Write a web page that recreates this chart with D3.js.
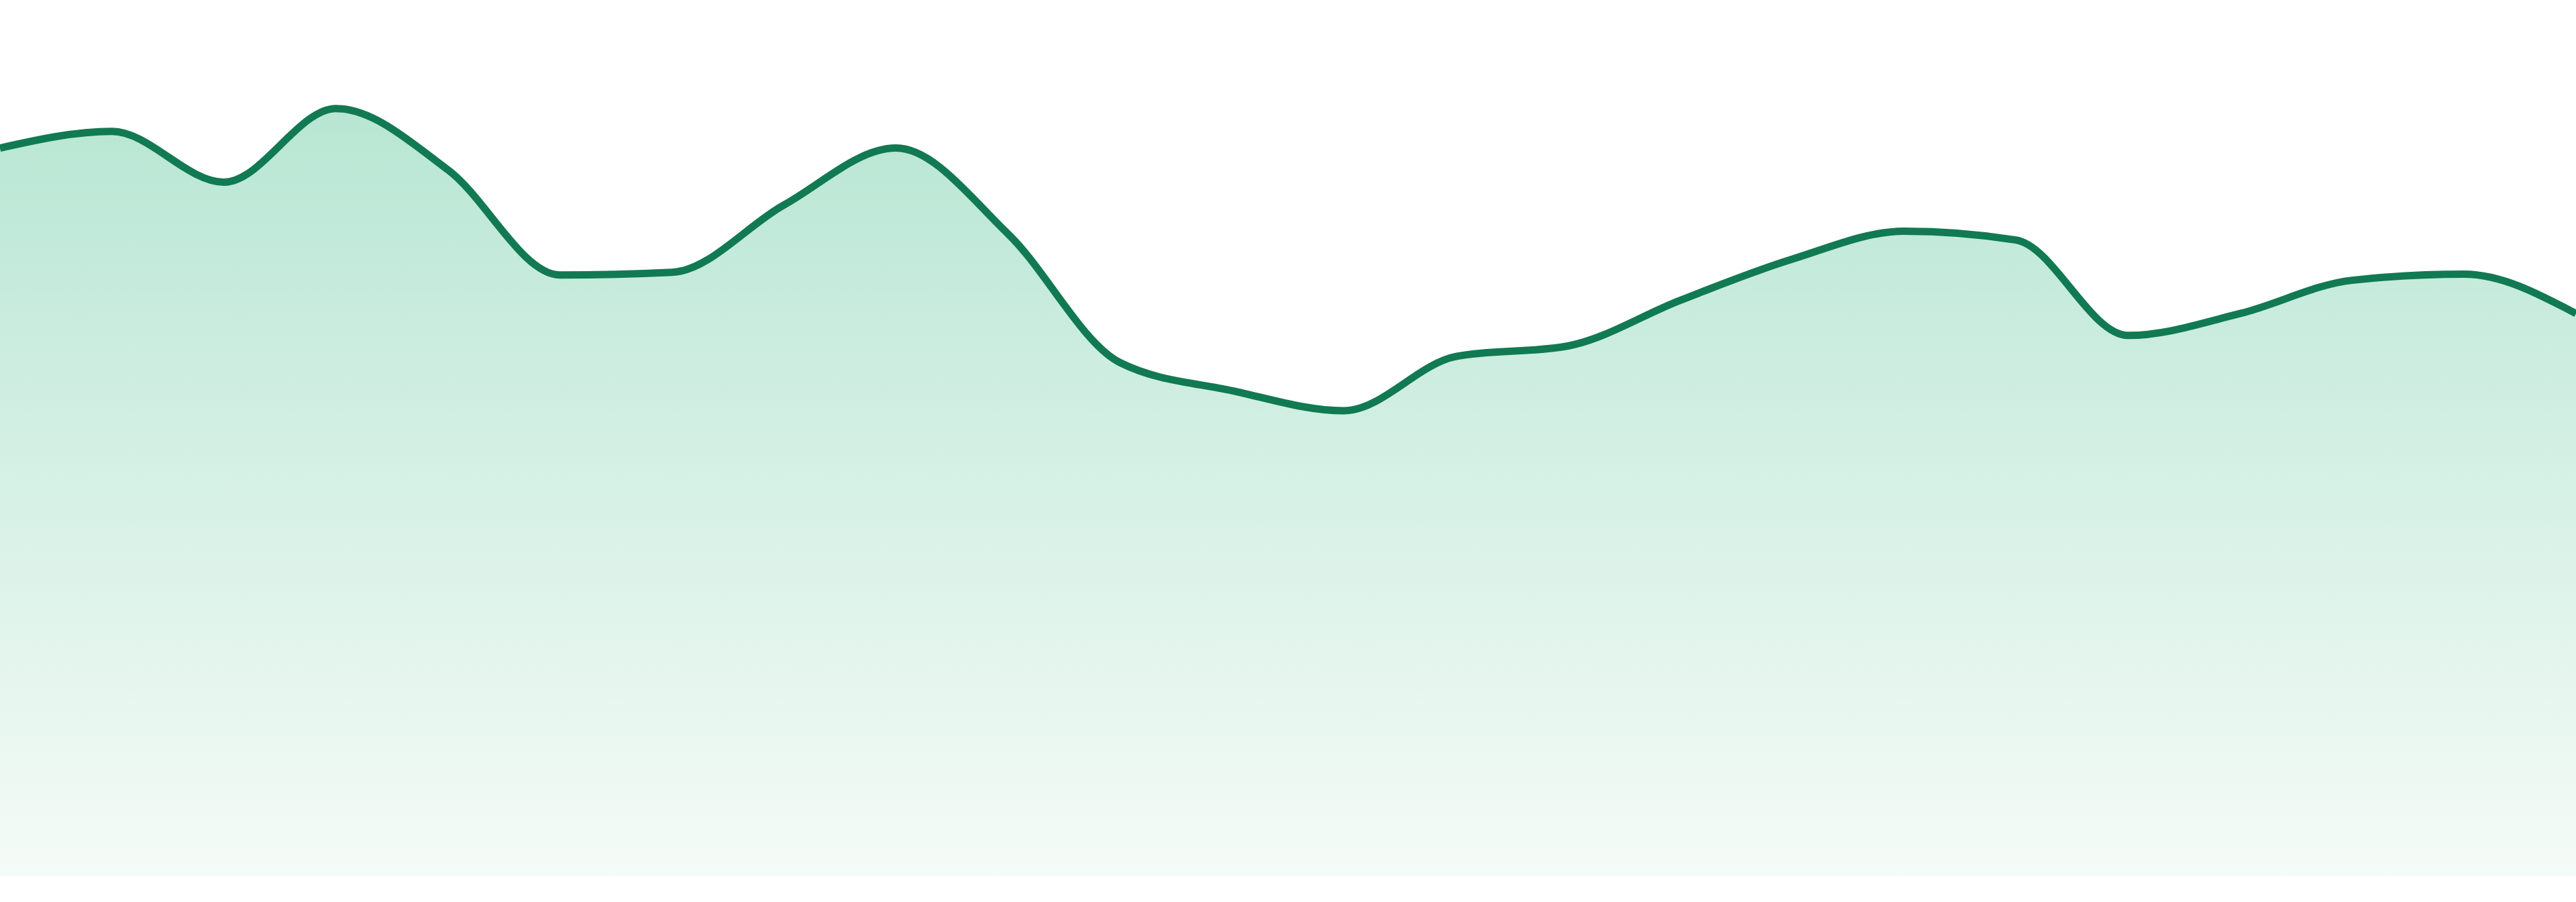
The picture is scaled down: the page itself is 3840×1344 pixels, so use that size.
<!DOCTYPE html>
<html>
<head>
<meta charset="utf-8">
<script src="https://cdn.jsdelivr.net/npm/d3@7"></script>
<style>
	html, body { margin: 0; padding: 0; background: #ffffff; }
	svg { display: block; }
</style>
</head>
<body>
<svg class="sparkCanvas"></svg>
<script>
//Series data, one value per period
var periods = d3.range(24);
var values = [83.1, 85.0, 79.2, 87.6, 80.6, 68.6, 68.9, 76.6, 83.1, 73.3, 58.6, 55.4,
	53.1, 59.3, 60.5, 65.7, 70.4, 73.6, 72.6, 61.7, 64.2, 68.0, 68.7, 64.2];
var valueDomain = [0, 100];

(function(){

	//SVG Configurations
	var svgWidth = 3840;
	var svgHeight = 1344;
	var baseline = 1305;			//bottom edge of the filled area
	var lineColor = "#117a52";
	var lineWidth = 11;

	var points = periods.map(function(p, i){ return {period: p, value: values[i]}; });

	var svg = d3.select(".sparkCanvas")
	.attr("width", svgWidth)
	.attr("height", svgHeight);

	var x = d3.scaleLinear()
	.domain(d3.extent(periods))
	.range([0, svgWidth]);

	var y = d3.scaleLinear()
	.domain(valueDomain)
	.range([baseline, 0]);

	//Vertical fade for the area
	var grad = svg.append("defs").append("linearGradient")
	.attr("id", "areaFade")
	.attr("gradientUnits", "userSpaceOnUse")
	.attr("x1", 0).attr("x2", 0)
	.attr("y1", y(d3.max(values)))
	.attr("y2", baseline);
	grad.append("stop").attr("offset", "0%").attr("stop-color", "#b8e6d3");
	grad.append("stop").attr("offset", "100%").attr("stop-color", "#f5fbf8");

	var area = d3.area()
	.curve(d3.curveMonotoneX)
	.x(function(d){ return x(d.period); })
	.y0(baseline)
	.y1(function(d){ return y(d.value); });

	var line = d3.line()
	.curve(d3.curveMonotoneX)
	.x(function(d){ return x(d.period); })
	.y(function(d){ return y(d.value); });

	svg.append("path")
	.datum(points)
	.attr("d", area)
	.attr("fill", "url(#areaFade)");

	svg.append("path")
	.datum(points)
	.attr("d", line)
	.attr("fill", "none")
	.attr("stroke", lineColor)
	.attr("stroke-width", lineWidth)
	.attr("stroke-linejoin", "round");

})();
</script>
</body>
</html>
